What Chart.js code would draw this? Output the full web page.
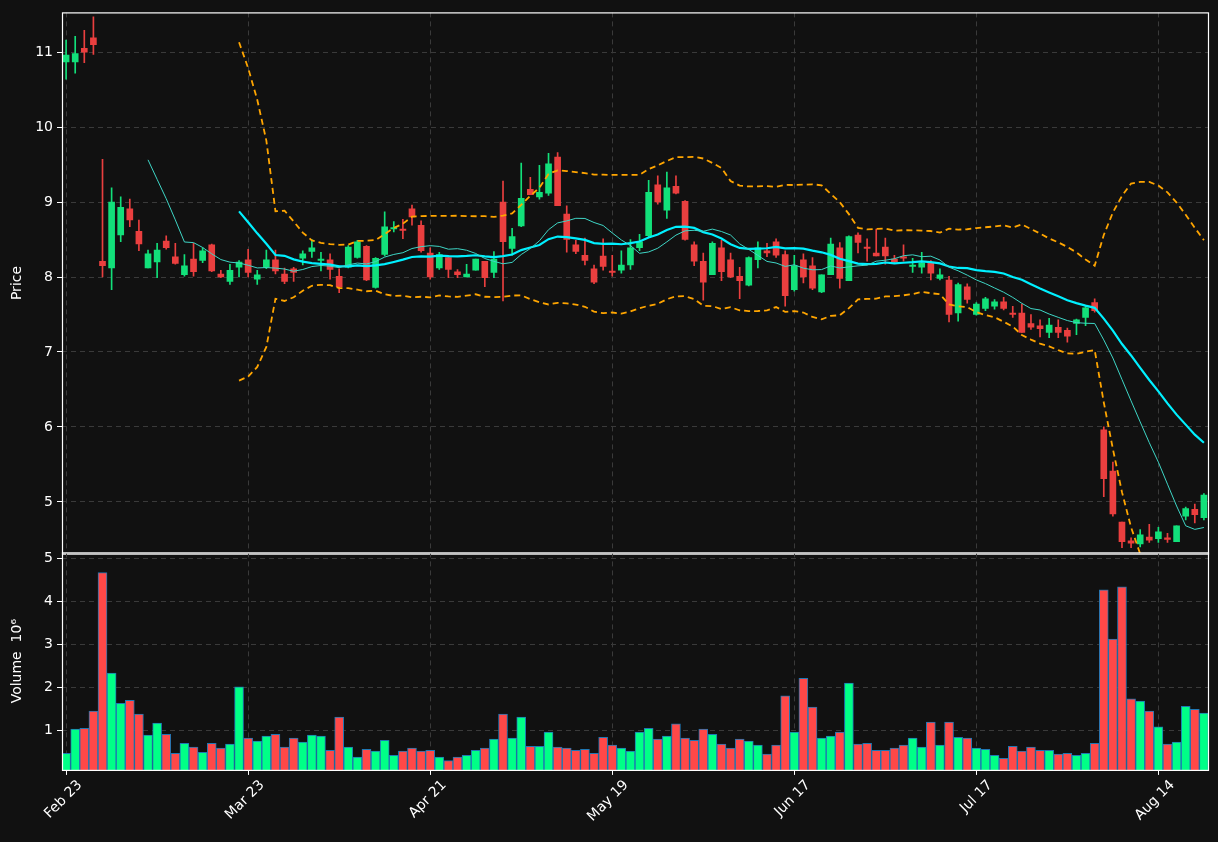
<!DOCTYPE html>
<html><head><meta charset="utf-8">
<script src="https://cdn.jsdelivr.net/npm/chart.js@4.4.0/dist/chart.umd.min.js"></script>
<style>
html,body{margin:0;padding:0;background:#111111;width:1218px;height:842px;overflow:hidden}
#c1{position:absolute;left:0;top:0}
#c2{position:absolute;left:0;top:540px}
</style></head><body>
<canvas id="c1" width="1218" height="566"></canvas>
<canvas id="c2" width="1218" height="287"></canvas>
<script>
const opens=[10.87,10.87,11.05,11.19,8.21,8.12,8.56,8.91,8.61,8.12,8.20,8.48,8.27,8.03,8.24,8.22,8.43,8.04,7.94,8.13,8.23,7.97,8.13,8.23,8.04,8.11,8.25,8.34,8.22,8.23,8.01,8.13,8.26,8.41,7.86,8.30,8.64,8.64,8.91,8.69,8.32,8.12,8.26,8.07,8.00,8.09,8.21,8.06,9.00,8.38,8.68,9.17,9.07,9.12,9.60,8.84,8.43,8.29,8.11,8.28,8.07,8.09,8.16,8.39,8.55,9.23,8.89,9.21,9.01,8.43,8.21,8.03,8.39,8.23,8.01,7.89,8.23,8.35,8.47,8.30,7.83,8.23,8.15,7.80,8.03,8.39,7.95,8.56,8.40,8.32,8.40,8.24,8.26,8.14,8.13,8.19,7.98,7.96,7.52,7.87,7.50,7.58,7.61,7.67,7.51,7.52,7.38,7.35,7.26,7.33,7.29,7.38,7.46,7.66,5.96,5.41,4.73,4.48,4.44,4.53,4.51,4.52,4.47,4.81,4.90,4.79];
const highs=[11.16,11.21,11.29,11.47,9.57,9.19,9.07,9.04,8.76,8.36,8.45,8.55,8.45,8.30,8.45,8.39,8.44,8.09,8.17,8.22,8.37,8.09,8.36,8.36,8.12,8.13,8.35,8.50,8.33,8.31,8.11,8.42,8.49,8.42,8.26,8.87,8.74,8.77,8.96,8.75,8.39,8.33,8.29,8.10,8.17,8.24,8.21,8.34,9.28,8.65,9.52,9.33,9.49,9.65,9.66,8.95,8.49,8.52,8.16,8.51,8.29,8.35,8.50,8.57,9.29,9.35,9.40,9.35,9.02,8.47,8.32,8.47,8.49,8.32,8.13,8.27,8.47,8.45,8.51,8.35,8.29,8.31,8.26,8.03,8.52,8.46,8.55,8.59,8.51,8.64,8.52,8.29,8.43,8.25,8.33,8.22,8.11,8.01,7.92,7.91,7.66,7.73,7.70,7.73,7.61,7.64,7.50,7.43,7.45,7.43,7.32,7.44,7.61,7.71,6.00,5.53,4.73,4.52,4.63,4.70,4.66,4.58,4.68,4.93,4.97,5.11];
const lows=[10.64,10.72,10.86,10.97,8.00,7.83,8.47,8.67,8.35,8.12,7.99,8.37,8.17,8.01,8.01,8.19,8.07,7.99,7.90,8.00,8.00,7.90,8.11,8.04,7.91,7.94,8.16,8.26,8.08,7.97,7.79,8.12,8.25,7.95,7.85,8.28,8.60,8.51,8.69,8.33,7.97,8.10,7.99,7.99,8.00,8.09,7.87,7.99,7.68,8.29,8.67,9.10,9.04,9.09,8.95,8.33,8.31,8.16,7.91,8.09,8.01,8.05,8.10,8.35,8.53,8.97,8.78,9.11,8.49,8.15,7.69,8.03,7.95,7.99,7.71,7.88,8.12,8.27,8.26,7.61,7.81,7.92,7.83,7.79,8.03,7.85,7.95,8.32,8.21,8.28,8.17,8.19,8.21,8.06,8.05,7.96,7.96,7.40,7.41,7.65,7.49,7.55,7.57,7.56,7.46,7.26,7.30,7.20,7.19,7.19,7.13,7.23,7.35,7.53,5.07,4.81,4.39,4.39,4.40,4.46,4.46,4.46,4.47,4.76,4.72,4.76];
const closes=[10.96,10.98,11.00,11.10,8.15,9.00,8.93,8.76,8.44,8.31,8.36,8.39,8.18,8.15,8.07,8.35,8.08,8.00,8.09,8.20,8.06,8.03,8.23,8.08,7.94,8.06,8.31,8.39,8.24,8.10,7.87,8.40,8.47,7.96,8.25,8.67,8.66,8.62,8.80,8.35,8.00,8.30,8.10,8.03,8.04,8.24,7.99,8.24,8.47,8.54,9.05,9.10,9.13,9.51,8.95,8.50,8.34,8.22,7.93,8.14,8.06,8.16,8.39,8.47,9.13,9.00,9.19,9.12,8.50,8.21,7.93,8.45,8.07,8.00,7.95,8.26,8.39,8.32,8.29,7.75,8.15,8.00,7.85,8.03,8.44,7.98,8.54,8.46,8.38,8.28,8.28,8.20,8.25,8.15,8.19,8.05,8.03,7.50,7.90,7.70,7.64,7.71,7.67,7.58,7.50,7.26,7.33,7.31,7.36,7.26,7.21,7.43,7.59,7.55,5.31,4.84,4.47,4.45,4.56,4.49,4.60,4.50,4.68,4.91,4.83,5.09];
const volumes=[0.48,1.04,1.06,1.46,4.67,2.34,1.64,1.71,1.39,0.90,1.18,0.92,0.48,0.71,0.62,0.50,0.71,0.60,0.69,2.02,0.83,0.76,0.88,0.92,0.62,0.83,0.74,0.90,0.88,0.55,1.32,0.62,0.39,0.57,0.53,0.78,0.43,0.53,0.60,0.53,0.55,0.39,0.31,0.39,0.43,0.55,0.60,0.81,1.39,0.83,1.32,0.64,0.64,0.97,0.62,0.60,0.55,0.57,0.48,0.85,0.67,0.60,0.53,0.97,1.06,0.81,0.88,1.16,0.83,0.78,1.04,0.92,0.69,0.60,0.81,0.76,0.67,0.46,0.67,1.81,0.97,2.22,1.55,0.83,0.88,0.97,2.11,0.69,0.71,0.55,0.55,0.60,0.67,0.83,0.62,1.20,0.67,1.20,0.85,0.83,0.60,0.57,0.43,0.36,0.64,0.53,0.62,0.55,0.55,0.46,0.48,0.43,0.48,0.71,4.27,3.13,4.34,1.74,1.69,1.46,1.09,0.69,0.74,1.57,1.50,1.41];
const tickIdx=[0,20,40,60,80,100,120];
const tickText=['Feb 23','Mar 23','Apr 21','May 19','Jun 17','Jul 17','Aug 14'];
const priceTicks=[5,6,7,8,9,10,11];
const volTicks=[1,2,3,4,5];

const N=closes.length;
const UP='#12e07a',DN='#ea3f3f',VUP='#00ff87',VDN='#ff4848';
const up=closes.map((c,i)=>c>=opens[i]);
function sma(p){return closes.map((_,i)=>{if(i<p-1)return null;let s=0;for(let k=i-p+1;k<=i;k++)s+=closes[k];return s/p;});}
const ma10=sma(10),ma20=sma(20);
const bbU=[],bbL=[];
for(let i=0;i<N;i++){if(i<19){bbU.push(null);bbL.push(null);continue;}
 const m=ma20[i];let v=0;for(let k=i-19;k<=i;k++)v+=(closes[k]-m)**2;const sd=Math.sqrt(v/19);bbU.push(m+2*sd);bbL.push(m-2*sd);}
const pts=a=>a.map((y,i)=>({x:i,y}));
const FONT={family:'DejaVu Sans',size:14};
Chart.defaults.color='#e6e6e6';
Chart.defaults.font=FONT;
const frame={id:'frame',afterDraw(ch){const a=ch.chartArea,c=ch.ctx;c.save();c.strokeStyle='#ffffff';c.lineWidth=1.2;c.strokeRect(a.left+0.5,a.top+0.5,a.right-a.left,a.bottom-a.top);c.restore();}};
const xBase={type:'linear',offset:false,min:-0.45,max:N-0.55,afterBuildTicks:s=>{s.ticks=tickIdx.map(v=>({value:v}));},
  border:{display:false,dash:[5,4]}};
const yW=s=>{s.width=55;};
const LP=7;
new Chart(document.getElementById('c1'),{
 data:{datasets:[
  {type:'bar',data:closes.map((c,i)=>({x:i,y:[lows[i],highs[i]]})),backgroundColor:up.map(u=>u?UP:DN),barThickness:1,grouped:false,order:3},
  {type:'bar',data:closes.map((c,i)=>({x:i,y:[opens[i],c]})),backgroundColor:up.map(u=>u?UP:DN),barThickness:6,minBarLength:1.5,grouped:false,order:2},
  {type:'line',data:pts(ma10),borderColor:'#3fd6c6',borderWidth:1,pointRadius:0,order:1},
  {type:'line',data:pts(ma20),borderColor:'#00f0ff',borderWidth:2.2,pointRadius:0,order:1},
  {type:'line',data:pts(bbU),borderColor:'#ffa500',borderWidth:1.8,borderDash:[6,4],pointRadius:0,order:1},
  {type:'line',data:pts(bbL),borderColor:'#ffa500',borderWidth:1.8,borderDash:[6,4],pointRadius:0,order:1}
 ]},
 options:{responsive:false,animation:false,events:[],layout:{padding:{top:11,right:10,bottom:0,left:LP}},
  plugins:{legend:{display:false},tooltip:{enabled:false}},
  scales:{
   x:Object.assign({},xBase,{afterFit:s=>{s.height=0;},ticks:{display:false},grid:{color:'#3a3a3a',drawTicks:false,offset:false}}),
   y:{min:4.31,max:11.53,afterBuildTicks:s=>{s.ticks=priceTicks.map(v=>({value:v}));},afterFit:yW,
      title:{display:true,text:'Price',color:'#ffffff',font:FONT,padding:2},
      ticks:{color:'#ffffff',padding:4},grid:{color:'#3a3a3a',tickColor:'#ffffff',tickLength:5},border:{display:false,dash:[5,4]}}
  }},plugins:[frame]});
new Chart(document.getElementById('c2'),{
 data:{datasets:[
  {type:'bar',data:volumes.map((v,i)=>({x:i,y:v})),backgroundColor:up.map(u=>u?VUP:VDN),borderColor:'#1f77b4',borderWidth:1,barThickness:9,grouped:false}
 ]},
 options:{responsive:false,animation:false,events:[],layout:{padding:{top:0,right:10,bottom:0,left:LP}},
  plugins:{legend:{display:false},tooltip:{enabled:false}},
  scales:{
   x:Object.assign({},xBase,{grid:{color:'#3a3a3a',tickColor:'#ffffff',tickLength:5,offset:false},ticks:{color:'#ffffff',maxRotation:45,minRotation:45,autoSkip:false,padding:2,labelOffset:14,callback:v=>tickText[tickIdx.indexOf(v)]??''}}),
   y:{min:0.093,max:5.14,afterBuildTicks:s=>{s.ticks=volTicks.map(v=>({value:v}));},afterFit:yW,
      title:{display:true,text:'Volume  10⁶',color:'#ffffff',font:FONT,padding:2},
      ticks:{color:'#ffffff',padding:4},grid:{color:'#3a3a3a',tickColor:'#ffffff',tickLength:5},border:{display:false,dash:[5,4]}}
  }},plugins:[frame]});
</script></body></html>
